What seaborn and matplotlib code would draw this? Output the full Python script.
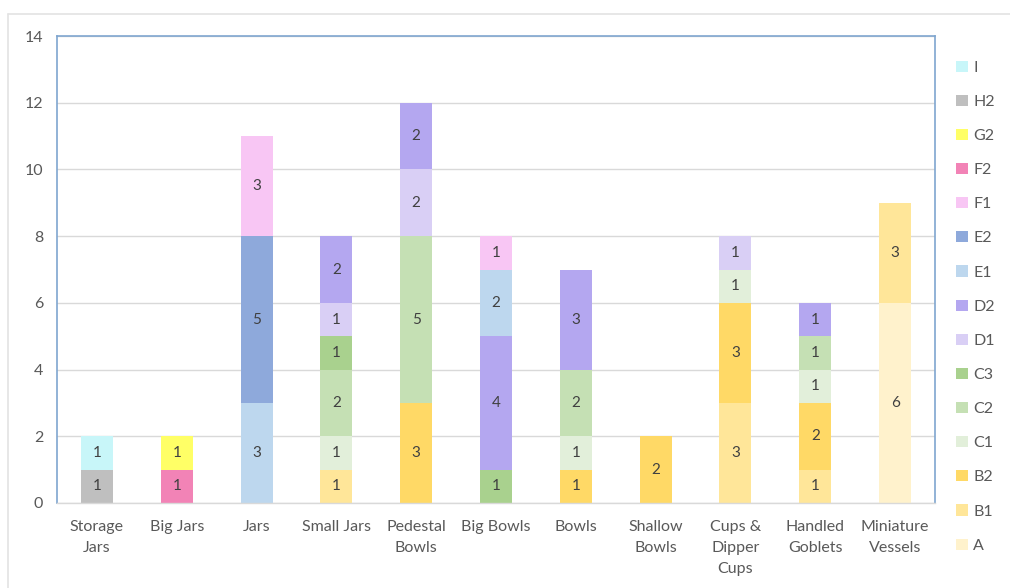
import numpy as np
import pandas as pd
import matplotlib
matplotlib.use("Agg")
import matplotlib.pyplot as plt
from matplotlib.lines import Line2D
from matplotlib.patches import Patch
import seaborn as sns

categories = ["Storage\nJars", "Big Jars", "Jars", "Small Jars", "Pedestal\nBowls",
              "Big Bowls", "Bowls", "Shallow\nBowls", "Cups &\nDipper\nCups",
              "Handled\nGoblets", "Miniature\nVessels"]

# stack order, bottom to top
series = ["A", "B1", "B2", "C1", "C2", "C3", "D1", "D2", "E1", "E2", "F1", "F2", "G2", "H2", "I"]

A  = [0, 0, 0, 0, 0, 0, 0, 0, 0, 0, 6]
B1 = [0, 0, 0, 1, 0, 0, 0, 0, 3, 1, 3]
B2 = [0, 0, 0, 0, 3, 0, 1, 2, 3, 2, 0]
C1 = [0, 0, 0, 1, 0, 0, 1, 0, 1, 1, 0]
C2 = [0, 0, 0, 2, 5, 0, 2, 0, 0, 1, 0]
C3 = [0, 0, 0, 1, 0, 1, 0, 0, 0, 0, 0]
D1 = [0, 0, 0, 1, 2, 0, 0, 0, 1, 0, 0]
D2 = [0, 0, 0, 2, 2, 4, 3, 0, 0, 1, 0]
E1 = [0, 0, 3, 0, 0, 2, 0, 0, 0, 0, 0]
E2 = [0, 0, 5, 0, 0, 0, 0, 0, 0, 0, 0]
F1 = [0, 0, 3, 0, 0, 1, 0, 0, 0, 0, 0]
F2 = [0, 1, 0, 0, 0, 0, 0, 0, 0, 0, 0]
G2 = [0, 1, 0, 0, 0, 0, 0, 0, 0, 0, 0]
H2 = [1, 0, 0, 0, 0, 0, 0, 0, 0, 0, 0]
I  = [1, 0, 0, 0, 0, 0, 0, 0, 0, 0, 0]

values = [A, B1, B2, C1, C2, C3, D1, D2, E1, E2, F1, F2, G2, H2, I]

colors = ["#FFF2CC", "#FFE699", "#FFD966", "#E2EFDA", "#C5E0B4", "#A9D18E",
          "#D9CFF5", "#B4A7F0", "#BDD7EE", "#8EA9DB", "#F8C6F4", "#F283B6",
          "#FFFF66", "#BFBFBF", "#C8F6F9"]

sns.set_theme(style="white")
plt.rcParams["font.family"] = ["Lato", "DejaVu Sans"]
text_color = "#595959"

fig = plt.figure(figsize=(10.10, 5.88), dpi=100)
ax = fig.add_axes([57 / 1010, 85 / 588, (935 - 57) / 1010, (503 - 36) / 588])

df = pd.DataFrame({s: v for s, v in zip(series, values)})
df["category"] = categories
cum = df[series].cumsum(axis=1)

# draw cumulative totals from the top layer downwards so each layer covers the next
for i in range(len(series) - 1, -1, -1):
    sns.barplot(x=df["category"], y=cum[series[i]], color=colors[i], width=0.4,
                saturation=1, linewidth=0, ax=ax, zorder=2)

# segment labels
for i, s in enumerate(series):
    for j, v in enumerate(df[s]):
        if v > 0:
            ax.text(j, cum[s][j] - v / 2, f"{v}", ha="center", va="center",
                    fontsize=11, color="#404040", zorder=3)

ax.set_ylim(0, 14)
ax.set_xlim(-0.5, len(categories) - 0.5)
ax.set_yticks(np.arange(0, 15, 2))
ax.set_xlabel("")
ax.set_ylabel("")
ax.yaxis.grid(True, color="#D9D9D9", linewidth=1)
ax.set_axisbelow(True)

for side in ["left", "top", "right"]:
    ax.spines[side].set_color("#7FA6CF")
    ax.spines[side].set_linewidth(1.2)
ax.spines["bottom"].set_color("#D9D9D9")
ax.spines["bottom"].set_linewidth(1)

ax.tick_params(axis="y", length=0, pad=10, labelsize=11.5, labelcolor=text_color)
ax.tick_params(axis="x", which="major", length=0, pad=12, labelsize=11.5, labelcolor=text_color)
ax.set_xticks(np.arange(-0.5, len(categories), 1), minor=True)
ax.tick_params(axis="x", which="minor", length=5, color="#D9D9D9", width=1)
for lab in ax.get_xticklabels():
    lab.set_linespacing(1.65)

# legend, top entry first
handles = [Patch(facecolor=colors[i], edgecolor="none") for i in range(len(series) - 1, -1, -1)]
labels = [series[i] for i in range(len(series) - 1, -1, -1)]
fig.legend(handles, labels, loc="upper left", bbox_to_anchor=(0.947, 0.897),
           frameon=False, fontsize=11.5, labelcolor=text_color,
           handlelength=0.7, handleheight=0.7, handletextpad=0.35,
           labelspacing=1.25, borderpad=0, borderaxespad=0)

# chart frame
fig.add_artist(Line2D([8 / 1010, 1.0], [1 - 14 / 588, 1 - 14 / 588], color="#E3E3E3", linewidth=1.2))
fig.add_artist(Line2D([8 / 1010, 8 / 1010], [0.0, 1 - 14 / 588], color="#E3E3E3", linewidth=1.2))

fig.savefig("out.png", dpi=100, facecolor="white")
